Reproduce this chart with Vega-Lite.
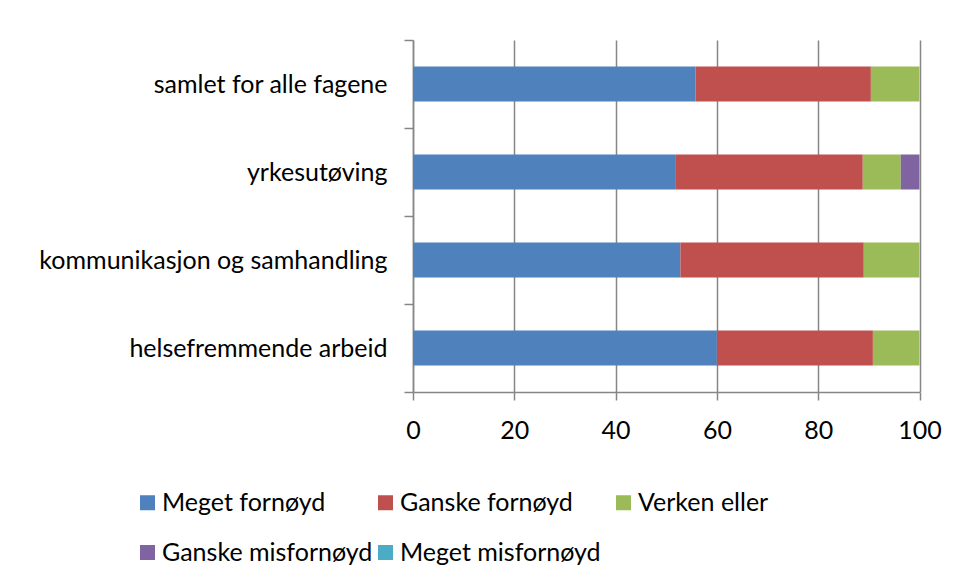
{
  "$schema": "https://vega.github.io/schema/vega-lite/v6.json",
  "width": 506.5,
  "height": 352,
  "autosize": {"type": "none"},
  "padding": {"left": 413, "top": 40, "right": 38.5, "bottom": 189},
  "background": "white",
  "data": {
    "values": [
      {"kategori": "samlet for alle fagene", "svar": "Meget fornøyd", "rekke": 1, "prosent": 55.8},
      {"kategori": "samlet for alle fagene", "svar": "Ganske fornøyd", "rekke": 2, "prosent": 34.6},
      {"kategori": "samlet for alle fagene", "svar": "Verken eller", "rekke": 3, "prosent": 9.6},
      {"kategori": "samlet for alle fagene", "svar": "Ganske misfornøyd", "rekke": 4, "prosent": 0},
      {"kategori": "samlet for alle fagene", "svar": "Meget misfornøyd", "rekke": 5, "prosent": 0},
      {"kategori": "yrkesutøving", "svar": "Meget fornøyd", "rekke": 1, "prosent": 51.9},
      {"kategori": "yrkesutøving", "svar": "Ganske fornøyd", "rekke": 2, "prosent": 36.9},
      {"kategori": "yrkesutøving", "svar": "Verken eller", "rekke": 3, "prosent": 7.5},
      {"kategori": "yrkesutøving", "svar": "Ganske misfornøyd", "rekke": 4, "prosent": 3.7},
      {"kategori": "yrkesutøving", "svar": "Meget misfornøyd", "rekke": 5, "prosent": 0},
      {"kategori": "kommunikasjon og samhandling", "svar": "Meget fornøyd", "rekke": 1, "prosent": 52.8},
      {"kategori": "kommunikasjon og samhandling", "svar": "Ganske fornøyd", "rekke": 2, "prosent": 36.2},
      {"kategori": "kommunikasjon og samhandling", "svar": "Verken eller", "rekke": 3, "prosent": 11.0},
      {"kategori": "kommunikasjon og samhandling", "svar": "Ganske misfornøyd", "rekke": 4, "prosent": 0},
      {"kategori": "kommunikasjon og samhandling", "svar": "Meget misfornøyd", "rekke": 5, "prosent": 0},
      {"kategori": "helsefremmende arbeid", "svar": "Meget fornøyd", "rekke": 1, "prosent": 60.0},
      {"kategori": "helsefremmende arbeid", "svar": "Ganske fornøyd", "rekke": 2, "prosent": 30.8},
      {"kategori": "helsefremmende arbeid", "svar": "Verken eller", "rekke": 3, "prosent": 9.2},
      {"kategori": "helsefremmende arbeid", "svar": "Ganske misfornøyd", "rekke": 4, "prosent": 0},
      {"kategori": "helsefremmende arbeid", "svar": "Meget misfornøyd", "rekke": 5, "prosent": 0}
    ]
  },
  "mark": {"type": "bar", "size": 35},
  "encoding": {
    "y": {
      "field": "kategori",
      "type": "nominal",
      "sort": ["samlet for alle fagene", "yrkesutøving", "kommunikasjon og samhandling", "helsefremmende arbeid"],
      "scale": {"paddingInner": 0, "paddingOuter": 0},
      "axis": {
        "title": null,
        "tickBand": "extent",
        "grid": false,
        "domainColor": "#868686",
        "domainWidth": 1.5,
        "tickColor": "#868686",
        "tickWidth": 1.5,
        "tickSize": 9,
        "labelFont": "Lato",
        "labelFontSize": 25,
        "labelColor": "#000000",
        "labelPadding": 17,
        "labelLimit": 500
      }
    },
    "x": {
      "field": "prosent",
      "type": "quantitative",
      "stack": "zero",
      "scale": {"domain": [0, 100], "nice": false},
      "axis": {
        "title": null,
        "values": [0, 20, 40, 60, 80, 100],
        "grid": true,
        "gridColor": "#868686",
        "gridWidth": 1.5,
        "domainColor": "#868686",
        "domainWidth": 1.5,
        "tickColor": "#868686",
        "tickWidth": 1.5,
        "tickSize": 8,
        "labelFont": "Lato",
        "labelFontSize": 25,
        "labelColor": "#000000",
        "labelPadding": 18,
        "labelFlush": false
      }
    },
    "color": {
      "field": "svar",
      "type": "nominal",
      "scale": {
        "domain": ["Meget fornøyd", "Ganske fornøyd", "Verken eller", "Ganske misfornøyd", "Meget misfornøyd"],
        "range": ["#4F81BD", "#C0504D", "#9BBB59", "#8064A2", "#4BACC6"]
      },
      "legend": {
        "title": null,
        "orient": "none",
        "legendX": -278,
        "legendY": 450,
        "direction": "horizontal",
        "columns": 3,
        "gridAlign": "all",
        "columnPadding": -7,
        "rowPadding": 24,
        "symbolType": "square",
        "symbolSize": 225,
        "symbolStrokeWidth": 0,
        "symbolOpacity": 1,
        "labelOffset": 2,
        "labelFont": "Lato",
        "labelFontSize": 25,
        "labelColor": "#000000",
        "labelLimit": 400,
        "padding": 0
      }
    },
    "order": {"field": "rekke", "type": "quantitative"}
  },
  "config": {
    "view": {"stroke": null},
    "bar": {"stroke": null}
  }
}
